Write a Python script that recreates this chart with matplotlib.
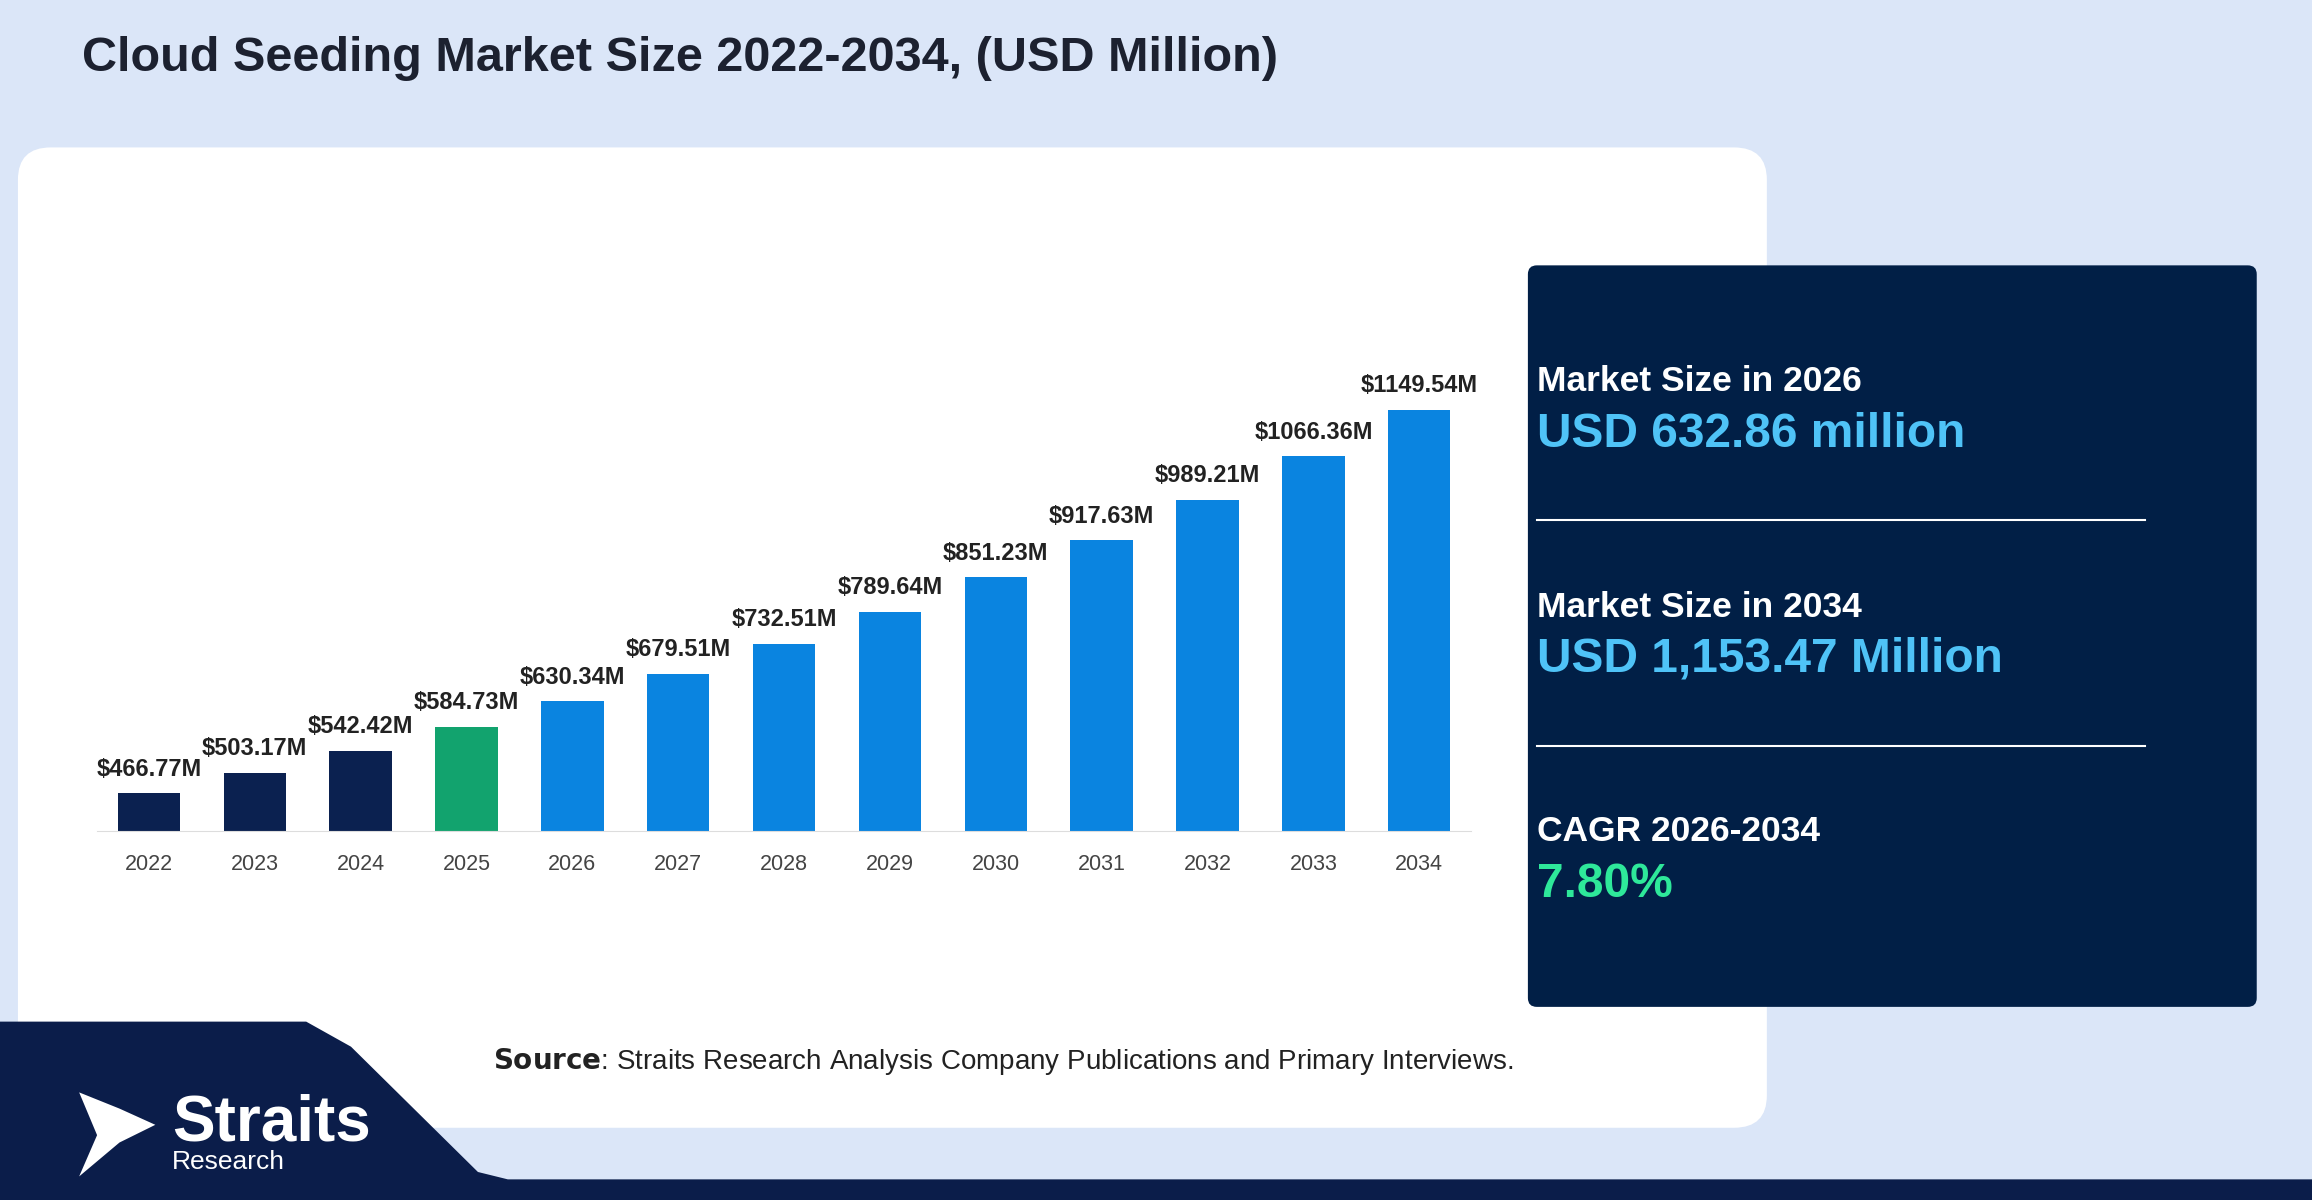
import matplotlib
matplotlib.use("Agg")
import matplotlib.pyplot as plt
from matplotlib.patches import FancyBboxPatch, Polygon

plt.rcParams['font.family'] = ['Liberation Sans', 'DejaVu Sans']

years = ["2022","2023","2024","2025","2026","2027","2028","2029","2030","2031","2032","2033","2034"]
values = [466.77,503.17,542.42,584.73,630.34,679.51,732.51,789.64,851.23,917.63,989.21,1066.36,1149.54]
labels = ["$466.77M","$503.17M","$542.42M","$584.73M","$630.34M","$679.51M","$732.51M","$789.64M","$851.23M","$917.63M","$989.21M","$1066.36M","$1149.54M"]
colors = ["#0b2150"]*3 + ["#12a36e"] + ["#0a84e0"]*9

W, H = 1548, 814
def fx(x): return x/W
def fy(y): return 1-y/H

fig = plt.figure(figsize=(23.12, 12), dpi=100)
fig.patch.set_facecolor("#dbe6f8")
bg = fig.add_axes([0,0,1,1]); bg.set_xlim(0,W); bg.set_ylim(H,0); bg.axis("off")

bg.add_patch(FancyBboxPatch((12,100),1171,665,boxstyle="round,pad=0,rounding_size=22",fc="white",ec="none"))
bg.add_patch(Polygon([(0,693),(205,693),(235,710),(320,795),(340,800),(1548,800),(1548,814),(0,814)],closed=True,fc="#0b1d4a",ec="none"))
bg.add_patch(FancyBboxPatch((1023,180),488,503,boxstyle="round,pad=0,rounding_size=6",fc="#011f46",ec="none"))

bg.text(55,40,"Cloud Seeding Market Size 2022-2034, (USD Million)",fontsize=35,fontweight="bold",color="#1c2130",va="center")

rows = [("Market Size in 2026","USD 632.86 million","#4fc3f7",259,295),
        ("Market Size in 2034","USD 1,153.47 Million","#4fc3f7",412,447),
        ("CAGR 2026-2034","7.80%","#2ee89a",564,600)]
for lab,val,c,y1,y2 in rows:
    bg.text(1029,y1,lab,fontsize=25.5,fontweight="bold",color="white",va="center")
    bg.text(1029,y2,val,fontsize=34.5,fontweight="bold",color=c,va="center")
for y in (353,506):
    bg.plot([1029,1436],[y,y],color="white",lw=1.5)

bg.text(330,720,"$\\bf{Source}$: Straits Research Analysis Company Publications and Primary Interviews.",fontsize=20,color="#222222",va="center")

bg.add_patch(Polygon([(53,741),(80,752),(104,763),(80,775),(53,798),(65,770)],closed=True,fc="white",ec="none"))
bg.text(115,762,"Straits",fontsize=46,fontweight="bold",color="white",va="center")
bg.text(115,788,"Research",fontsize=19,color="white",va="center")

ax = fig.add_axes([fx(65), fy(564), fx(985)-fx(65), (564-200)/H])
x = list(range(len(years)))
ax.bar(x, values, width=0.59, color=colors, zorder=2)
ax.set_ylim(398.5, 398.5+364/0.381)
ax.set_xlim(-0.49, 12.49)
for i,(v,l) in enumerate(zip(values,labels)):
    ax.text(i, v+22, l, ha="center", va="bottom", fontsize=17, fontweight="bold", color="#222222")
ax.set_xticks(x); ax.set_xticklabels(years, fontsize=15.5, color="#444444")
ax.tick_params(length=0, pad=16)
ax.set_yticks([])
for s in ("top","right","left"): ax.spines[s].set_visible(False)
ax.spines["bottom"].set_color("#dddddd")
ax.patch.set_alpha(0)

fig.savefig("out.png", dpi=100, facecolor=fig.get_facecolor())
